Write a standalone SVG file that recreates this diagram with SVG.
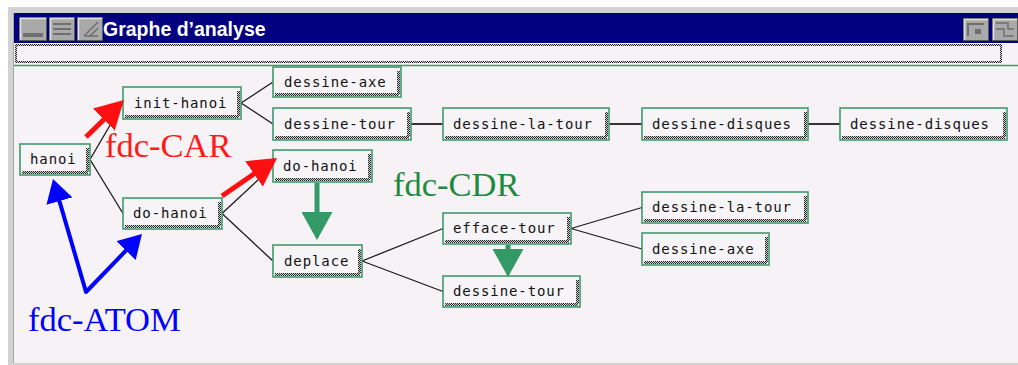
<svg xmlns="http://www.w3.org/2000/svg" width="1018" height="365" viewBox="0 0 1018 365">
  <style>
    .box { fill: #f7f4f7; stroke: #3d9b6b; stroke-width: 1.6; }
    .shade { fill: url(#chk); }
    .lbl { font-family: "DejaVu Sans Mono", "Liberation Mono", monospace; font-size: 14px; letter-spacing: 0.9px; fill: #111; }
    .edge { stroke: #1a1a1a; stroke-width: 1.3; fill: none; }
    .edge-h { stroke: #333; stroke-width: 2; fill: none; }
    .note { font-family: "Liberation Serif", "Times New Roman", serif; font-size: 34.5px; }
    .btn { fill: #a9a9a9; stroke: #5a5a5a; stroke-width: 1; }
    .btn-hi { stroke: #e0e0e0; stroke-width: 1.5; fill: none; }
  </style>
  <defs>
    <pattern id="chk" width="2" height="2" patternUnits="userSpaceOnUse">
      <rect width="2" height="2" fill="#d8d6d8"/>
      <rect width="1" height="1" fill="#222"/>
      <rect x="1" y="1" width="1" height="1" fill="#222"/>
    </pattern>
    <marker id="head-red" viewBox="0 0 28 31" refX="18" refY="15.5" markerWidth="28" markerHeight="31" markerUnits="userSpaceOnUse" orient="auto">
      <path d="M0,0 L28,15.5 L0,31 z" fill="#ff1010"/>
    </marker>
    <marker id="head-green" viewBox="0 0 28 31" refX="18" refY="15.5" markerWidth="28" markerHeight="31" markerUnits="userSpaceOnUse" orient="auto">
      <path d="M0,0 L28,15.5 L0,31 z" fill="#339966"/>
    </marker>
    <marker id="head-blue" viewBox="0 0 23 27" refX="13" refY="13.5" markerWidth="23" markerHeight="27" markerUnits="userSpaceOnUse" orient="auto-start-reverse">
      <path d="M0,0 L23,13.5 L0,27 z" fill="#0000ff"/>
    </marker>
  </defs>

  <!-- window frame -->
  <rect x="0" y="0" width="1018" height="365" fill="#ffffff"/>
  <rect x="8" y="7" width="1010" height="358" fill="#d2d2d2"/>
  <line x1="13.5" y1="13" x2="13.5" y2="363" stroke="#a8a8a8" stroke-width="1"/>

  <!-- title bar -->
  <g id="titlebar">
    <rect x="14" y="13" width="1004" height="30" fill="#000080"/>
    <rect class="btn" x="19.5" y="17.5" width="27" height="23"/>
    <path class="btn-hi" d="M20.5,40 V18.5 H46"/>
    <rect x="23" y="33" width="20" height="4" fill="#6e6e6e"/>
    <rect class="btn" x="49.5" y="17.5" width="25" height="23"/>
    <path class="btn-hi" d="M50.5,40 V18.5 H74"/>
    <path d="M53,24 H71 M53,29 H71 M53,34 H71" stroke="#6e6e6e" stroke-width="2"/>
    <rect class="btn" x="77.5" y="17.5" width="25" height="23"/>
    <path class="btn-hi" d="M78.5,40 V18.5 H102"/>
    <path d="M84,36 L98,22 M90,36 L98,28 M84,36 H98" stroke="#6e6e6e" stroke-width="1.5" fill="none"/>
    <text x="103" y="36" font-family="Liberation Sans, Arial, sans-serif" font-size="19.5" font-weight="bold" fill="#ffffff">Graphe d’analyse</text>
    <rect class="btn" x="963.5" y="18.5" width="25" height="22"/>
    <path class="btn-hi" d="M964.5,40 V19.5 H988"/>
    <path d="M968,36 V24 H984" stroke="#6e6e6e" stroke-width="2" fill="none"/>
    <rect x="975" y="29" width="6" height="5" fill="#6e6e6e"/>
    <rect class="btn" x="992.5" y="18.5" width="25" height="22"/>
    <path class="btn-hi" d="M993.5,40 V19.5 H1017"/>
    <path d="M996,23 H1008 V29 H1014 M996,29 H1004 V36 H1014" stroke="#6e6e6e" stroke-width="1.5" fill="none"/>
  </g>

  <!-- entry field and canvas -->
  <rect x="14" y="43" width="1004" height="22" fill="#f6f2f6"/>
  <rect x="16" y="45" width="985" height="17" fill="#f6f2f6" stroke="url(#chk)" stroke-width="2"/>
  <rect x="14" y="66" width="1004" height="297" fill="#f6f2f6"/>
  <line x1="14" y1="65.5" x2="1018" y2="65.5" stroke="#3d9b6b" stroke-width="1.5"/>

  <!-- tree connectors -->
  <g id="connectors">
    <path class="edge" d="M90,159.5 L123,103 M90,159.5 L123,213.5"/>
    <path class="edge" d="M241,103 L273,82 M241,103 L273,124"/>
    <path class="edge-h" d="M411,124 H443 M609,124 H642 M808,124 H840"/>
    <path class="edge" d="M222,213.5 L273,166 M222,213.5 L273,261"/>
    <path class="edge" d="M362,261 L443,228.5 M362,261 L443,291.5"/>
    <path class="edge" d="M571,228.5 L642,207.5 M571,228.5 L642,249"/>
  </g>

  <!-- nodes -->
  <g id="n-hanoi">
    <rect class="box" x="20" y="144" width="70" height="31"/>
    <rect class="shade" x="22" y="171" width="66" height="3"/><rect class="shade" x="86" y="148" width="3" height="24"/>
    <text class="lbl" x="30" y="164">hanoi</text>
  </g>
  <g id="n-init-hanoi">
    <rect class="box" x="123" y="87" width="118" height="32"/>
    <rect class="shade" x="125" y="115" width="114" height="3"/><rect class="shade" x="237" y="91" width="3" height="25"/>
    <text class="lbl" x="134" y="108">init-hanoi</text>
  </g>
  <g id="n-do-hanoi-1">
    <rect class="box" x="123" y="198" width="99" height="31"/>
    <rect class="shade" x="125" y="225" width="95" height="3"/><rect class="shade" x="218" y="202" width="3" height="24"/>
    <text class="lbl" x="133" y="218">do-hanoi</text>
  </g>
  <g id="n-dessine-axe-1">
    <rect class="box" x="273" y="67" width="128" height="30"/>
    <rect class="shade" x="275" y="93" width="124" height="3"/><rect class="shade" x="397" y="71" width="3" height="23"/>
    <text class="lbl" x="284" y="87">dessine-axe</text>
  </g>
  <g id="n-dessine-tour-1">
    <rect class="box" x="273" y="108" width="138" height="32"/>
    <rect class="shade" x="275" y="136" width="134" height="3"/><rect class="shade" x="407" y="112" width="3" height="25"/>
    <text class="lbl" x="284" y="129">dessine-tour</text>
  </g>
  <g id="n-dessine-la-tour-1">
    <rect class="box" x="443" y="108" width="166" height="32"/>
    <rect class="shade" x="445" y="136" width="162" height="3"/><rect class="shade" x="605" y="112" width="3" height="25"/>
    <text class="lbl" x="453" y="129">dessine-la-tour</text>
  </g>
  <g id="n-dessine-disques-1">
    <rect class="box" x="642" y="108" width="166" height="32"/>
    <rect class="shade" x="644" y="136" width="162" height="3"/><rect class="shade" x="804" y="112" width="3" height="25"/>
    <text class="lbl" x="652" y="129">dessine-disques</text>
  </g>
  <g id="n-dessine-disques-2">
    <rect class="box" x="840" y="108" width="167" height="32"/>
    <rect class="shade" x="842" y="136" width="163" height="3"/><rect class="shade" x="1003" y="112" width="3" height="25"/>
    <text class="lbl" x="850" y="129">dessine-disques</text>
  </g>
  <g id="n-do-hanoi-2">
    <rect class="box" x="273" y="150" width="99" height="32"/>
    <rect class="shade" x="275" y="178" width="95" height="3"/><rect class="shade" x="368" y="154" width="3" height="25"/>
    <text class="lbl" x="283" y="171">do-hanoi</text>
  </g>
  <g id="n-deplace">
    <rect class="box" x="273" y="245" width="89" height="32"/>
    <rect class="shade" x="275" y="273" width="85" height="3"/><rect class="shade" x="358" y="249" width="3" height="25"/>
    <text class="lbl" x="284" y="266">deplace</text>
  </g>
  <g id="n-efface-tour">
    <rect class="box" x="443" y="213" width="128" height="31"/>
    <rect class="shade" x="445" y="240" width="124" height="3"/><rect class="shade" x="567" y="217" width="3" height="24"/>
    <text class="lbl" x="453" y="233">efface-tour</text>
  </g>
  <g id="n-dessine-tour-2">
    <rect class="box" x="443" y="276" width="137" height="31"/>
    <rect class="shade" x="445" y="303" width="133" height="3"/><rect class="shade" x="576" y="280" width="3" height="24"/>
    <text class="lbl" x="453" y="296">dessine-tour</text>
  </g>
  <g id="n-dessine-la-tour-2">
    <rect class="box" x="642" y="192" width="166" height="31"/>
    <rect class="shade" x="644" y="219" width="162" height="3"/><rect class="shade" x="804" y="196" width="3" height="24"/>
    <text class="lbl" x="652" y="212">dessine-la-tour</text>
  </g>
  <g id="n-dessine-axe-2">
    <rect class="box" x="642" y="233" width="127" height="32"/>
    <rect class="shade" x="644" y="261" width="123" height="3"/><rect class="shade" x="765" y="237" width="3" height="25"/>
    <text class="lbl" x="652" y="254">dessine-axe</text>
  </g>

  <!-- annotation arrows and captions -->
  <g id="annotations">
    <line x1="86" y1="137" x2="116.7" y2="107" stroke="#ff1010" stroke-width="5" marker-end="url(#head-red)"/>
    <line x1="222" y1="196" x2="268.8" y2="163.7" stroke="#ff1010" stroke-width="5" marker-end="url(#head-red)"/>
    <text class="note" x="105" y="157" fill="#ff1a1a">fdc-CAR</text>

    <line x1="317" y1="183" x2="317" y2="230" stroke="#339966" stroke-width="5" marker-end="url(#head-green)"/>
    <line x1="508" y1="245" x2="508" y2="267" stroke="#339966" stroke-width="5" marker-end="url(#head-green)"/>
    <text class="note" x="393" y="196" fill="#1f8a3e">fdc-CDR</text>

    <path d="M55.8,188.6 L86,292 L135,241.2" stroke="#0000ff" stroke-width="4" fill="none" stroke-linejoin="round" marker-start="url(#head-blue)" marker-end="url(#head-blue)"/>
    <text class="note" x="28" y="331" fill="#0000ff">fdc-ATOM</text>
  </g>
</svg>
